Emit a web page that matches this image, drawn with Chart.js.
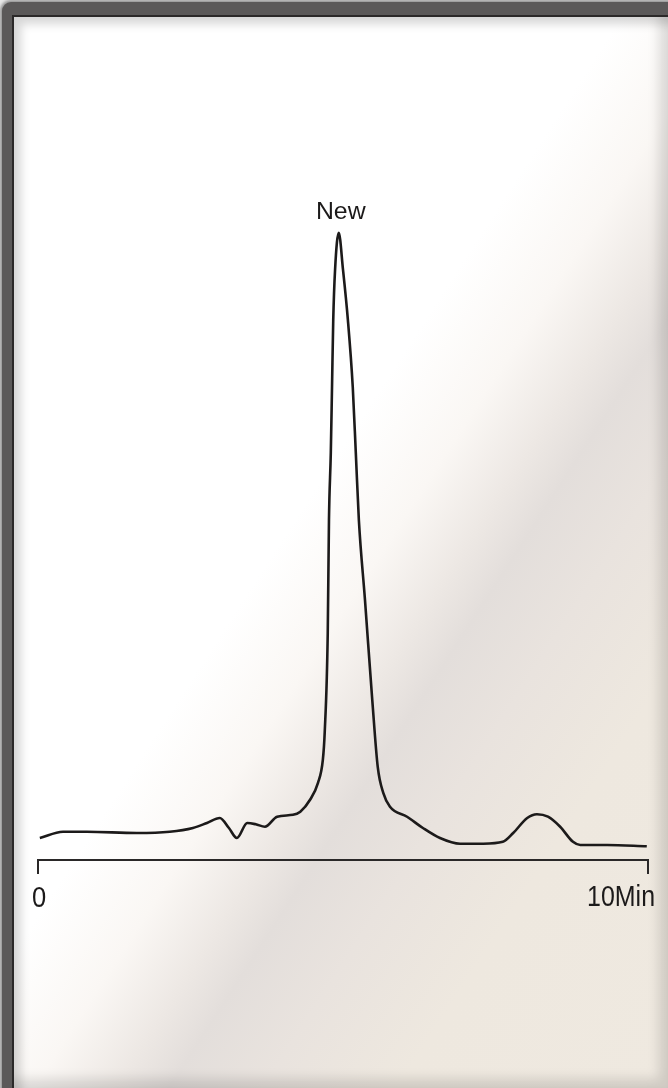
<!DOCTYPE html>
<html>
<head>
<meta charset="utf-8">
<script src="https://cdn.jsdelivr.net/npm/chart.js@4.4.1/dist/chart.umd.min.js"></script>
<style>
    body {
        margin: 0;
        width: 668px;
        height: 1088px;
        overflow: hidden;
        position: relative;
        background: #e9e9e9;
    }
    #frame {
        position: absolute;
        left: 2px;
        top: 2px;
        width: 720px;
        height: 1140px;
        border-radius: 9px;
        background: #5b5959;
        box-shadow: 0 0 3px 2px rgba(80, 80, 80, 0.55);
    }
    #panel {
        position: absolute;
        left: 12px;
        top: 15px;
        width: 656px;
        height: 1073px;
        box-sizing: border-box;
        border-left: 2px solid #2b2929;
        border-top: 2px solid #2b2929;
        background: linear-gradient(123deg, #ffffff 0%, #ffffff 45%, #faf7f4 53%, #ede8e4 59%, #e3dedb 63%, #e9e3de 70%, #eee8df 80%, #efe9e0 100%);
        box-shadow: inset 7px 7px 10px rgba(0, 0, 0, 0.16), inset -9px -9px 12px rgba(0, 0, 0, 0.13);
    }
    #chart {
        position: absolute;
        left: 0;
        top: 0;
    }
</style>
</head>
<body>
<div id="frame"></div>
<div id="panel"></div>
<canvas id="chart" width="668" height="1088"></canvas>
<script>
// Retention time (min) and detector signal
const times = [0.03, 0.41, 0.80, 1.62, 2.16, 2.54, 2.77, 2.98, 3.13, 3.26, 3.43, 3.57, 3.72, 3.92, 4.18,
    4.30, 4.46, 4.59, 4.67, 4.70, 4.75, 4.77, 4.80, 4.82, 4.84, 4.87, 4.93, 5.00, 5.08, 5.16, 5.21, 5.26,
    5.36, 5.48, 5.57, 5.66, 5.77, 6.05, 6.31, 6.59, 6.92, 7.30, 7.62, 7.79, 8.02, 8.18, 8.36, 8.56, 8.77,
    8.89, 9.33, 9.98];
const signal = [3.5, 4.5, 4.5, 4.3, 4.5, 5.1, 5.9, 6.7, 5.1, 3.5, 5.9, 5.7, 5.3, 6.9, 7.2,
    7.7, 9.6, 12.3, 16.0, 20.3, 36.2, 54.2, 64.9, 75.4, 86.1, 94.1, 100, 94.1, 86.1, 75.4, 64.9, 54.2,
    41.5, 25.5, 14.8, 10.7, 8.5, 6.9, 5.1, 3.5, 2.6, 2.6, 2.9, 4.3, 6.7, 7.3, 6.9, 5.3, 2.9,
    2.4, 2.4, 2.2];
const axisTicks = [0, 10];
const axisLabels = ['0', '10Min'];
const peakLabel = 'New';

const ink = '#1c1a1a';

// Axis captions and the peak name, drawn at scale positions
const labelPlugin = {
    id: 'labels',
    afterDraw(chart) {
        const { ctx, scales } = chart;
        const x = scales.x;
        const y = scales.y;
        const base = y.getPixelForValue(0);

        const drawText = (text, px, py, align, size, stretch) => {
            ctx.save();
            ctx.font = size + 'px "Liberation Sans", Arial, sans-serif';
            ctx.fillStyle = ink;
            ctx.textAlign = align;
            ctx.textBaseline = 'alphabetic';
            ctx.translate(px, py);
            ctx.scale(stretch, 1);
            ctx.fillText(text, 0, 0);
            ctx.restore();
        };

        drawText(axisLabels[0], x.getPixelForValue(axisTicks[0]) + 1, base + 47, 'center', 29, 0.88);
        drawText(axisLabels[1], x.getPixelForValue(axisTicks[1]) + 7, base + 46, 'right', 29, 0.86);

        const top = signal.indexOf(Math.max(...signal));
        drawText(peakLabel, x.getPixelForValue(times[top]) + 2, y.getPixelForValue(signal[top]) - 14, 'center', 23, 1.08);
    }
};

new Chart(document.getElementById('chart'), {
    type: 'line',
    data: {
        datasets: [{
            data: times.map((t, i) => ({ x: t, y: signal[i] })),
            borderColor: ink,
            borderWidth: 2.6,
            pointRadius: 0,
            fill: false,
            cubicInterpolationMode: 'monotone'
        }]
    },
    options: {
        responsive: false,
        animation: false,
        layout: {
            padding: { left: 38, right: 20, top: 170, bottom: 214 }
        },
        plugins: {
            legend: { display: false },
            tooltip: { enabled: false }
        },
        scales: {
            x: {
                type: 'linear',
                min: 0,
                max: 10,
                afterBuildTicks: scale => {
                    scale.ticks = axisTicks.map(v => ({ value: v }));
                },
                border: { display: true, color: '#2a2828', width: 2 },
                grid: {
                    drawOnChartArea: false,
                    drawTicks: true,
                    tickLength: 14,
                    color: '#2a2828',
                    lineWidth: 2
                },
                ticks: { display: false }
            },
            y: {
                display: false,
                min: 0,
                max: 110
            }
        }
    },
    plugins: [labelPlugin]
});
</script>
</body>
</html>
